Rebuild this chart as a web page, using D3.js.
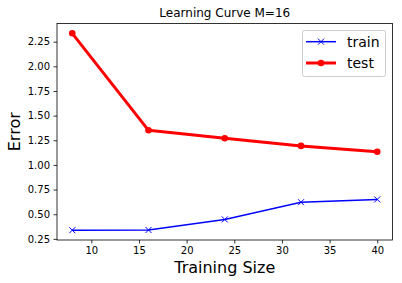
<!DOCTYPE html>
<html>
<head>
<meta charset="utf-8">
<script src="https://cdn.jsdelivr.net/npm/d3@7"></script>
<style>
  body { margin: 0; background: #fff; }
  svg { font-family: "DejaVu Sans", sans-serif; }
</style>
</head>
<body>
<div id="chart"></div>
<script>
// data
var sizes = [8, 16, 24, 32, 40];
var trainErr = [0.338, 0.340, 0.447, 0.622, 0.650];
var testErr = [2.335, 1.351, 1.270, 1.193, 1.133];
var xTicks = [10, 15, 20, 25, 30, 35, 40];
var yTicks = [0.25, 0.50, 0.75, 1.00, 1.25, 1.50, 1.75, 2.00, 2.25];

var W = 402, H = 283;
var margin = {top: 23.5, right: 9.5, bottom: 43, left: 57};

var svg = d3.select("#chart").append("svg")
    .attr("width", W)
    .attr("height", H);

var x = d3.scaleLinear().domain([6.4, 41.6]).range([margin.left, W - margin.right]);
var y = d3.scaleLinear().domain([0.2385, 2.4345]).range([H - margin.bottom, margin.top]);

//axes
var gX = svg.append("g")
    .attr("transform", "translate(0," + (H - margin.bottom) + ")")
    .call(d3.axisBottom(x).tickValues(xTicks).tickSize(3.5).tickPadding(3.5).tickFormat(d3.format("d")));
var gY = svg.append("g")
    .attr("transform", "translate(" + margin.left + ",0)")
    .call(d3.axisLeft(y).tickValues(yTicks).tickSize(3.5).tickPadding(3.5).tickFormat(d3.format(".2f")));

[gX, gY].forEach(function(g){
    g.select(".domain").remove();
    g.selectAll("line").attr("stroke", "#000").attr("stroke-width", 0.8);
    g.selectAll("text").attr("fill", "#000").style("font-size", "10px").style("font-family", "DejaVu Sans");
});

// frame
svg.append("rect")
    .attr("x", margin.left)
    .attr("y", margin.top)
    .attr("width", W - margin.right - margin.left)
    .attr("height", H - margin.bottom - margin.top)
    .attr("fill", "none")
    .attr("stroke", "#000")
    .attr("stroke-width", 0.8);

var line = d3.line()
    .x(function(d){ return x(d[0]); })
    .y(function(d){ return y(d[1]); });

var trainPts = sizes.map(function(s, i){ return [s, trainErr[i]]; });
var testPts = sizes.map(function(s, i){ return [s, testErr[i]]; });

function drawX(g, cx, cy, r){
    g.append("path")
        .attr("d", "M" + (cx - r) + "," + (cy - r) + "L" + (cx + r) + "," + (cy + r) +
                   "M" + (cx - r) + "," + (cy + r) + "L" + (cx + r) + "," + (cy - r))
        .attr("stroke", "blue")
        .attr("stroke-width", 1)
        .attr("fill", "none");
}

// train
svg.append("path")
    .datum(trainPts)
    .attr("d", line)
    .attr("fill", "none")
    .attr("stroke", "blue")
    .attr("stroke-width", 1.5);
var gTrain = svg.append("g");
trainPts.forEach(function(d){ drawX(gTrain, x(d[0]), y(d[1]), 3); });

// test
svg.append("path")
    .datum(testPts)
    .attr("d", line)
    .attr("fill", "none")
    .attr("stroke", "red")
    .attr("stroke-width", 3)
    .attr("stroke-linejoin", "round");
svg.append("g").selectAll("circle")
    .data(testPts)
    .enter().append("circle")
    .attr("cx", function(d){ return x(d[0]); })
    .attr("cy", function(d){ return y(d[1]); })
    .attr("r", 3.3)
    .attr("fill", "red");

// title and labels
svg.append("text")
    .attr("x", (margin.left + W - margin.right) / 2)
    .attr("y", 17)
    .attr("text-anchor", "middle")
    .style("font-size", "12px")
    .text("Learning Curve M=16");

svg.append("text")
    .attr("x", (margin.left + W - margin.right) / 2)
    .attr("y", 272.5)
    .attr("text-anchor", "middle")
    .style("font-size", "16px")
    .text("Training Size");

svg.append("text")
    .attr("transform", "translate(20," + ((margin.top + H - margin.bottom) / 2) + ") rotate(-90)")
    .attr("text-anchor", "middle")
    .style("font-size", "16px")
    .text("Error");

// legend
var leg = svg.append("g");
leg.append("rect")
    .attr("x", 302.5).attr("y", 30.5)
    .attr("width", 83).attr("height", 46)
    .attr("rx", 2)
    .attr("fill", "#fff")
    .attr("fill-opacity", 0.8)
    .attr("stroke", "#ccc")
    .attr("stroke-width", 1);

leg.append("line")
    .attr("x1", 306).attr("x2", 336)
    .attr("y1", 41.7).attr("y2", 41.7)
    .attr("stroke", "blue").attr("stroke-width", 1.5);
drawX(leg, 321, 41.7, 3);
leg.append("line")
    .attr("x1", 306).attr("x2", 336)
    .attr("y1", 63).attr("y2", 63)
    .attr("stroke", "red").attr("stroke-width", 3);
leg.append("circle").attr("cx", 321).attr("cy", 63).attr("r", 3.3).attr("fill", "red");

leg.append("text").attr("x", 347).attr("y", 47).style("font-size", "14px").text("train");
leg.append("text").attr("x", 347).attr("y", 68).style("font-size", "14px").text("test");
</script>
</body>
</html>
